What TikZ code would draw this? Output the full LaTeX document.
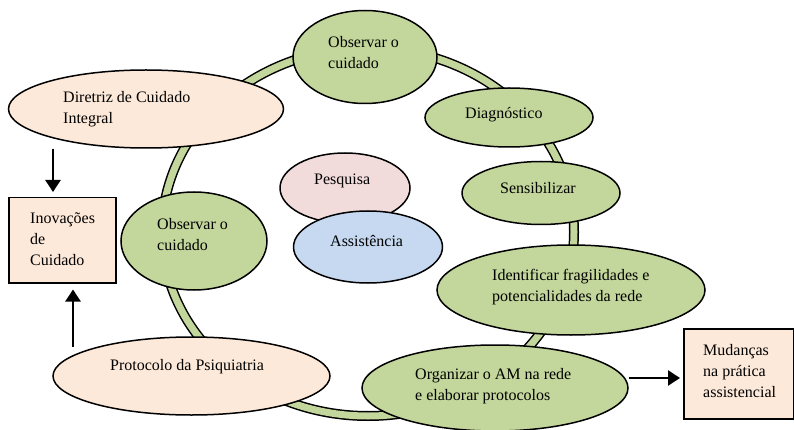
\documentclass[tikz,border=0pt]{standalone}
\usepackage{fontspec}
\setmainfont{Liberation Serif}
\usetikzlibrary{shapes.geometric,arrows.meta}
\definecolor{ringgreen}{HTML}{C3D69B}
\definecolor{peach}{HTML}{FDE9D9}
\definecolor{pink}{HTML}{F2DCDB}
\definecolor{lblue}{HTML}{C6D9F1}
\tikzset{
  oval/.style={ellipse, draw=black, line width=1.5pt, inner sep=0pt},
  greenoval/.style={oval, fill=ringgreen},
  peachoval/.style={oval, fill=peach},
  box/.style={rectangle, draw=black, line width=1.5pt, fill=peach, inner sep=0pt, anchor=north west},
  txt/.style={anchor=west, inner sep=0pt, align=left, font=\fontsize{16pt}{21pt}\selectfont},
  arr/.style={line width=2.5pt, -{Triangle[length=12pt,width=15pt]}}
}
\begin{document}
\begin{tikzpicture}[x=1pt,y=-1pt]
\useasboundingbox (0,0) rectangle (794,430);
% ring
\coordinate (rc) at (368,232);
\draw[line width=10pt, black] (rc) ellipse [x radius=206pt, y radius=184pt];
\draw[line width=7pt, ringgreen] (rc) ellipse [x radius=206pt, y radius=184pt];

% central ovals
\node[oval, fill=pink, minimum width=130pt, minimum height=70pt] (pes) at (345,188) {};
\node[oval, fill=lblue, minimum width=149pt, minimum height=72pt] (ass) at (368,247) {};

% green ovals on ring
\node[greenoval, minimum width=144pt, minimum height=93pt] (obs1) at (365,57) {};
\node[greenoval, minimum width=168pt, minimum height=59pt] (diag) at (509,117.5) {};
\node[greenoval, minimum width=158pt, minimum height=63pt] (sens) at (541,193) {};
\node[greenoval, minimum width=268pt, minimum height=90pt] (iden) at (571,290) {};
\node[greenoval, minimum width=266pt, minimum height=86pt] (org) at (495,388) {};
\node[greenoval, minimum width=146pt, minimum height=98pt] (obs2) at (194,241) {};

% peach ovals
\node[peachoval, minimum width=275pt, minimum height=78pt] (dir) at (146,109) {};
\node[peachoval, minimum width=277pt, minimum height=78pt] (prot) at (191.5,376) {};

% boxes
\node[box, minimum width=107pt, minimum height=85pt] (inov) at (8,197) {};
\node[box, minimum width=110pt, minimum height=90pt] (mud) at (683,328) {};

% texts
\node[txt] (tobs1) at (328,53) {Observar o\\cuidado};
\node[txt] (tdiag) at (465,115) {Diagnóstico};
\node[txt] (tsens) at (500,188) {Sensibilizar};
\node[txt] (tiden) at (492,287.5) {Identificar fragilidades e\\potencialidades da rede};
\node[txt] (torg) at (415,386.5) {Organizar o AM na rede\\e elaborar protocolos};
\node[txt] (tobs2) at (157,235) {Observar o\\cuidado};
\node[txt] (tdir) at (63,109.5) {Diretriz de Cuidado\\Integral};
\node[txt] (tprot) at (110,367) {Protocolo da Psiquiatria};
\node[txt] (tinov) at (30,239) {Inovações\\de\\Cuidado};
\node[txt] (tmud) at (703,371) {Mudanças\\na prática\\assistencial};
\node[txt] (tpes) at (314,181) {Pesquisa};
\node[txt] (tass) at (330,241) {Assistência};

% arrows
\coordinate (aD) at (53,0);
\coordinate (aP) at (73,347);
\coordinate (aO) at (0,378);
\draw[arr, shorten >=5pt] (dir.south -| aD) -- (inov.north -| aD);
\draw[arr, shorten >=6pt] (aP) -- (inov.south -| aP);
\draw[arr, shorten >=3pt] (org.east |- aO) -- (mud.west |- aO);
\end{tikzpicture}
\end{document}
